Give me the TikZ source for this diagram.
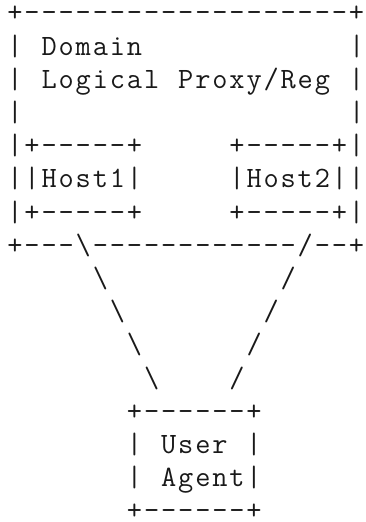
\documentclass[tikz,border=0pt]{standalone}
\usepackage{fontspec}
\newcommand\bsl{\textbackslash}
\ExplSyntaxOn
\cs_new:Npn \cells #1 { \tl_map_inline:nn {#1} { \makebox[17.08pt]{##1} } }
\ExplSyntaxOff
\begin{document}
\begin{tikzpicture}[x=1pt,y=1pt,
  asc/.style={anchor=base west, inner sep=0pt, outer sep=0pt,
    font=\ttfamily\fontsize{29.5}{33.2}\selectfont, text=black!90, text depth=0pt}]
\useasboundingbox (0,0) rectangle (365,-522);
\def\xo{6.46}\def\cwd{17.08}\def\yo{21.8}\def\ls{33.2}
\newcommand\pos[2]{({\xo+#1*\cwd},{-\yo-(#2-1)*\ls})}
\node[asc] (r1)  at \pos{0}{1}  {\cells{+-------------------+}};
\node[asc] (r2)  at \pos{0}{2}  {\cells{|~Domain~~~~~~~~~~~~|}};
\node[asc] (r3)  at \pos{0}{3}  {\cells{|~Logical~Proxy/Reg~|}};
\node[asc] (r4)  at \pos{0}{4}  {\cells{|~~~~~~~~~~~~~~~~~~~|}};
\node[asc] (r5)  at \pos{0}{5}  {\cells{|+-----+~~~~~+-----+|}};
\node[asc] (r6)  at \pos{0}{6}  {\cells{||Host1|~~~~~|Host2||}};
\node[asc] (r7)  at \pos{0}{7}  {\cells{|+-----+~~~~~+-----+|}};
\node[asc] (r8)  at \pos{0}{8}  {\cells{+---\bsl------------/--+}};
\node[asc] (r9)  at \pos{5}{9}  {\cells{\bsl~~~~~~~~~~/}};
\node[asc] (r10) at \pos{6}{10} {\cells{\bsl~~~~~~~~/}};
\node[asc] (r11) at \pos{7}{11} {\cells{\bsl~~~~~~/}};
\node[asc] (r12) at \pos{8}{12} {\cells{\bsl~~~~/}};
\node[asc] (r13) at \pos{7}{13} {\cells{+------+}};
\node[asc] (r14) at \pos{7}{14} {\cells{|~User~|}};
\node[asc] (r15) at \pos{7}{15} {\cells{|~Agent|}};
\node[asc] (r16) at \pos{7}{16} {\cells{+------+}};
\end{tikzpicture}
\end{document}
